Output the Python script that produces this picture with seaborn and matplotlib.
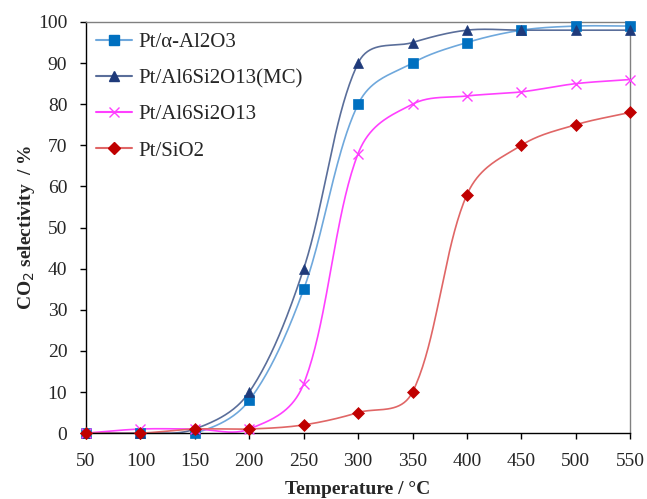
import numpy as np
import pandas as pd
import matplotlib
matplotlib.use("Agg")
import matplotlib.pyplot as plt
import seaborn as sns
from matplotlib.lines import Line2D

temps = [50, 100, 150, 200, 250, 300, 350, 400, 450, 500, 550]
alpha_al2o3 = [0, 0, 0, 8, 35, 80, 90, 95, 98, 99, 99]
mullite_mc = [0, 0, 1, 10, 40, 90, 95, 98, 98, 98, 98]
mullite = [0, 1, 1, 1, 12, 68, 80, 82, 83, 85, 86]
sio2 = [0, 0, 1, 1, 2, 5, 10, 58, 70, 75, 78]
series_names = ["Pt/α-Al2O3", "Pt/Al6Si2O13(MC)", "Pt/Al6Si2O13", "Pt/SiO2"]

sns.set_style("white")
plt.rcParams['font.family'] = ['Liberation Serif', 'DejaVu Serif']

# approx pixels per data unit (screen-space smoothing like spreadsheet charts)
SX, SY = 544 / 500.0, 411 / 100.0
A = 0.6

def smooth(x, y, n=40):
    x = np.asarray(x, float) * SX; y = np.asarray(y, float) * SY
    P = np.column_stack([x, y])
    m = len(P)
    out = []
    for i in range(m - 1):
        p0 = P[i-1] if i > 0 else P[i]
        p1, p2 = P[i], P[i+1]
        p3 = P[i+2] if i + 2 < m else P[i+1]
        d01 = np.linalg.norm(p1 - p0) ** A
        d12 = np.linalg.norm(p2 - p1) ** A
        d23 = np.linalg.norm(p3 - p2) ** A
        T1 = p2 - p0; T2 = p3 - p1
        f1 = d12 / (d01 + d12) if d01 + d12 > 0 else 0.5
        f2 = d12 / (d12 + d23) if d12 + d23 > 0 else 0.5
        c1 = p1 + T1 * f1 / 3.0
        c2 = p2 - T2 * f2 / 3.0
        t = np.linspace(0, 1, n, endpoint=False)[:, None]
        pts = ((1-t)**3)*p1 + 3*((1-t)**2)*t*c1 + 3*(1-t)*t**2*c2 + t**3*p2
        out.append(pts)
    out.append(P[-1][None, :])
    out = np.vstack(out)
    return out[:, 0] / SX, out[:, 1] / SY

fig = plt.figure(figsize=(6.47, 4.99), dpi=100)
ax = fig.add_axes([0.133, 0.132, 0.841, 0.824])

styles = [
    (alpha_al2o3, "#6FA8DC", "#0070C0", "s", 7),
    (mullite_mc, "#5A6E9A", "#1F3A7A", "^", 7),
    (mullite, "#FF40FF", "#FF40FF", "x", 7),
    (sio2, "#E06666", "#C00000", "D", 6),
]
handles = []
for name, (vals, lc, mc, mk, ms) in zip(series_names, styles):
    xs, ys = smooth(temps, vals)
    sns.lineplot(x=xs, y=ys, ax=ax, color=lc, lw=1.2, sort=False, estimator=None)
    df = pd.DataFrame({"T": temps, "v": vals})
    ax.plot(df["T"], df["v"], ls="none", marker=mk, color=mc, ms=ms,
            mew=1.0 if mk == "x" else 0.5, mec=mc, zorder=3, clip_on=False)
    handles.append(Line2D([0], [0], color=lc, lw=1.5, marker=mk, mfc=mc, mec=mc, ms=ms))

ax.set_xlim(50, 550)
ax.set_ylim(0, 100)
ax.set_xticks(temps)
ax.set_yticks(range(0, 101, 10))
ax.tick_params(axis='both', direction='out', length=4.5, width=1, color='black',
               labelsize=14, bottom=True, left=True, pad=9)
ax.tick_params(axis='x', pad=10)
ax.set_xlabel("Temperature / °C", fontsize=14, fontweight='bold', labelpad=8)
ax.set_ylabel("CO$_2$ selectivity  / %", fontsize=14, fontweight='bold', labelpad=1)
for s in ["left", "bottom"]:
    ax.spines[s].set_color("black"); ax.spines[s].set_linewidth(1)
for s in ["top", "right"]:
    ax.spines[s].set_color("#808080"); ax.spines[s].set_linewidth(1)

ax.legend(handles, series_names, loc="upper left", bbox_to_anchor=(0.0, 1.0),
          frameon=False, fontsize=15, handlelength=1.7, handletextpad=0.3,
          labelspacing=0.8, borderaxespad=0.1)

fig.savefig("out.png", dpi=100)
